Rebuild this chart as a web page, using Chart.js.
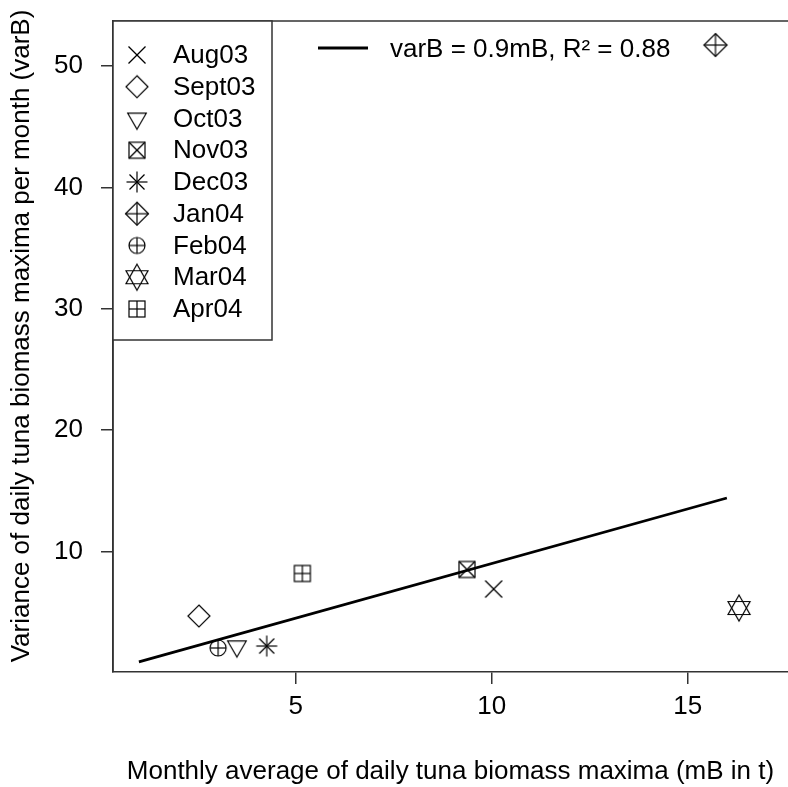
<!DOCTYPE html>
<html>
<head>
<meta charset="utf-8">
<script src="https://cdn.jsdelivr.net/npm/chart.js@4.4.1/dist/chart.umd.min.js"></script>
<style>
  html, body { margin: 0; padding: 0; background: #fff; }
  #wrap { width: 788px; height: 787px; }
</style>
</head>
<body>
<div id="wrap"><canvas id="c" width="788" height="787"></canvas></div>
<script>
// ---- data ----
const months = ['Aug03', 'Sept03', 'Oct03', 'Nov03', 'Dec03', 'Jan04', 'Feb04', 'Mar04', 'Apr04'];
const mB   = [10.05, 2.53, 3.50, 9.37, 4.26, 15.71, 3.02, 16.31, 5.17];
const varB = [6.90, 4.67, 2.18, 8.51, 2.20, 51.73, 2.04, 5.33, 8.18];
const symbols = ['pch4', 'pch5', 'pch6', 'pch7', 'pch8', 'pch9', 'pch10', 'pch11', 'pch12'];
const fitX = [1, 16];
const fitY = [0.9, 14.4];
const fitLabel = 'varB = 0.9mB, R\u00B2 = 0.88';
const xTicks = [5, 10, 15];
const yTicks = [10, 20, 30, 40, 50];
const xTitle = 'Monthly average of daily tuna biomass maxima (mB in t)';
const yTitle = 'Variance of daily tuna biomass maxima per month (varB)';

const FONT = "'Liberation Sans', Arial, sans-serif";
const FS = 26;

// ---- R-like plotting symbols ----
function makeSymbol(type) {
  const S = 30, c = S / 2;
  const cv = document.createElement('canvas');
  cv.width = S; cv.height = S;
  const g = cv.getContext('2d');
  g.strokeStyle = '#000';
  g.lineWidth = 1.2;
  const line = (x1, y1, x2, y2) => { g.beginPath(); g.moveTo(c + x1, c + y1); g.lineTo(c + x2, c + y2); g.stroke(); };
  const poly = (pts) => { g.beginPath(); pts.forEach((p, i) => i ? g.lineTo(c + p[0], c + p[1]) : g.moveTo(c + p[0], c + p[1])); g.closePath(); g.stroke(); };
  const r = 8;
  switch (type) {
    case 'pch4': line(-8.5, -8.5, 8.5, 8.5); line(-8.5, 8.5, 8.5, -8.5); break;
    case 'pch5': poly([[0, -11], [11, 0], [0, 11], [-11, 0]]); break;
    case 'pch6': poly([[0, 10.7], [9.3, -5.3], [-9.3, -5.3]]); break;
    case 'pch7': g.strokeRect(c - r, c - r, 2 * r, 2 * r); line(-r, -r, r, r); line(-r, r, r, -r); break;
    case 'pch8': line(-7.5, -7.5, 7.5, 7.5); line(-7.5, 7.5, 7.5, -7.5); line(-10.5, 0, 10.5, 0); line(0, -10.5, 0, 10.5); break;
    case 'pch9': poly([[0, -11.5], [11.5, 0], [0, 11.5], [-11.5, 0]]); line(-11.5, 0, 11.5, 0); line(0, -11.5, 0, 11.5); break;
    case 'pch10': g.beginPath(); g.arc(c, c, r, 0, Math.PI * 2); g.stroke(); line(-r, 0, r, 0); line(0, -r, 0, r); break;
    case 'pch11':
      poly([[0, -13], [11, 6.5], [-11, 6.5]]);
      poly([[0, 13], [11, -6.5], [-11, -6.5]]);
      break;
    case 'pch12': g.strokeRect(c - r, c - r, 2 * r, 2 * r); line(-r, 0, r, 0); line(0, -r, 0, r); break;
  }
  return cv;
}
const symbolCanvases = symbols.map(makeSymbol);

// ---- datasets ----
const datasets = months.map((m, i) => ({
  type: 'scatter',
  label: m,
  data: [{ x: mB[i], y: varB[i] }],
  pointStyle: symbolCanvases[i],
  pointRadius: 10,
  borderColor: '#000',
  backgroundColor: 'transparent'
}));
datasets.unshift({
  type: 'line',
  label: fitLabel,
  data: fitX.map((x, i) => ({ x: x, y: fitY[i] })),
  borderColor: '#000',
  borderWidth: 2.8,
  pointRadius: 0,
  fill: false,
  tension: 0
});

// ---- plugin: frame, y title, legends ----
const framePlugin = {
  id: 'frame',
  afterDraw(chart) {
    const ctx = chart.ctx, a = chart.chartArea;
    ctx.save();
    ctx.strokeStyle = '#333';
    ctx.lineWidth = 1.5;
    ctx.beginPath();
    ctx.moveTo(a.left, a.bottom); ctx.lineTo(a.left, a.top); ctx.lineTo(a.right + 2, a.top);
    ctx.stroke();

    // y axis title (R mtext placement, slightly above plot centre)
    ctx.save();
    ctx.fillStyle = '#000';
    ctx.font = FS + 'px ' + FONT;
    ctx.textAlign = 'center';
    ctx.textBaseline = 'middle';
    ctx.translate(22, 336);
    ctx.rotate(-Math.PI / 2);
    ctx.fillText(yTitle, 0, 0);
    ctx.restore();

    // month legend box
    const bx = a.left, by = a.top, bw = 159, bh = 319;
    ctx.fillStyle = '#fff';
    ctx.fillRect(bx, by, bw, bh);
    ctx.strokeRect(bx, by, bw, bh);
    ctx.fillStyle = '#000';
    ctx.font = FS + 'px ' + FONT;
    ctx.textBaseline = 'middle';
    ctx.textAlign = 'left';
    months.forEach((m, i) => {
      const yc = 55 + 31.75 * i;
      const s = symbolCanvases[i];
      ctx.drawImage(s, 137 - s.width / 2, yc - s.height / 2);
      ctx.fillText(m, 173, yc + 1);
    });

    // regression legend (no box)
    ctx.strokeStyle = '#000';
    ctx.lineWidth = 2.8;
    ctx.beginPath(); ctx.moveTo(318, 48); ctx.lineTo(368, 48); ctx.stroke();
    ctx.fillText(fitLabel, 390, 50);
    ctx.restore();
  }
};

new Chart(document.getElementById('c'), {
  data: { datasets: datasets },
  options: {
    responsive: false,
    animation: false,
    layout: { autoPadding: false, padding: { top: 21, right: 0, left: 0, bottom: 0 } },
    plugins: { legend: { display: false }, tooltip: { enabled: false } },
    scales: {
      x: {
        type: 'linear',
        min: 0.339, max: 17.56,
        afterBuildTicks: s => { s.ticks = xTicks.map(v => ({ value: v })); },
        afterFit: s => { s.height = 115; s.paddingRight = 0; s.paddingLeft = 0; },
        grid: { drawOnChartArea: false, drawTicks: true, tickLength: 12, color: '#333', lineWidth: 1.5 },
        border: { display: true, color: '#333', width: 1.5 },
        ticks: { color: '#000', font: { family: FONT, size: FS }, padding: 7, maxRotation: 0 },
        title: { display: true, text: xTitle, color: '#000', font: { family: FONT, size: FS }, padding: { top: 18, bottom: 0 } }
      },
      y: {
        type: 'linear',
        min: 0.06, max: 53.71,
        afterBuildTicks: s => { s.ticks = yTicks.map(v => ({ value: v })); },
        afterFit: s => { s.width = 113; s.paddingTop = 0; s.paddingBottom = 0; },
        grid: { drawOnChartArea: false, drawTicks: true, tickLength: 12, color: '#333', lineWidth: 1.5 },
        border: { display: true, color: '#333', width: 1.5 },
        ticks: { color: '#000', font: { family: FONT, size: FS }, padding: 18 },
        title: { display: false, text: yTitle }
      }
    }
  },
  plugins: [framePlugin]
});
</script>
</body>
</html>
